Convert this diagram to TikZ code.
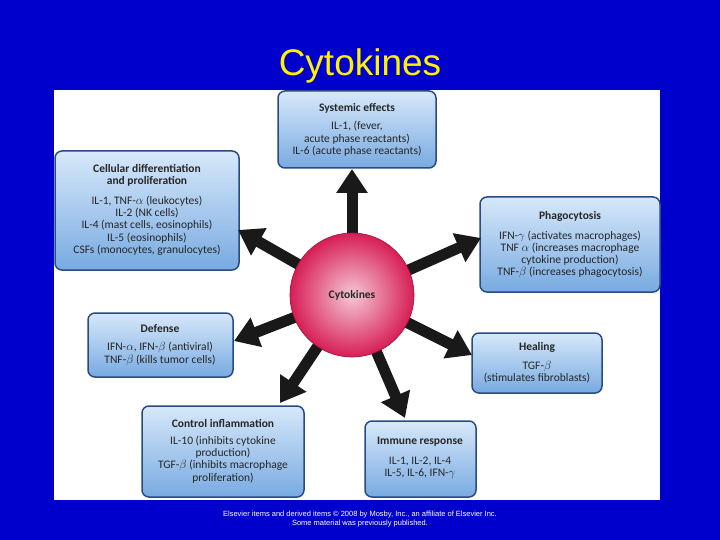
\documentclass[tikz,border=0pt]{standalone}
\usepackage{fontspec}
\setmainfont{Liberation Sans}
\newfontfamily\boxfont{Carlito}
\usetikzlibrary{arrows.meta,shadings}
\definecolor{bgblue}{RGB}{0,0,204}
\definecolor{boxtop}{RGB}{215,232,250}
\definecolor{boxbot}{RGB}{120,170,225}
\definecolor{boxline}{RGB}{40,75,130}
\definecolor{ballin}{RGB}{245,200,215}
\definecolor{ballout}{RGB}{215,30,85}
\begin{document}
\begin{tikzpicture}[x=1pt,y=-1pt,
  cbox/.style={rounded corners=7pt,draw=boxline,line width=1.5pt,top color=boxtop,bottom color=boxbot},
  btext/.style={font=\boxfont\fontsize{11.5}{12.3}\selectfont,align=center,text=black!85},
  arr/.style={line width=11pt,-{Triangle[width=30pt,length=24pt]},black!90}]
\fill[bgblue] (0,0) rectangle (720,540);
\useasboundingbox (0,0) rectangle (720,540);
\node[text=yellow,font=\fontsize{37}{40}\selectfont] (title) at (360,66) {Cytokines};
\fill[white] (54,90) rectangle (660,500);
% boxes
\path[cbox] (278,91) rectangle (436,168);
\node[btext] (sys) at (357,130) {\textbf{Systemic effects}\\[6pt]IL-1, (fever,\\acute phase reactants)\\IL-6 (acute phase reactants)};
\path[cbox] (55,151) rectangle (239,270);
\node[btext] (cell) at (147,210) {\textbf{Cellular differentiation}\\\textbf{and proliferation}\\[7pt]IL-1, TNF-$\alpha$ (leukocytes)\\IL-2 (NK cells)\\IL-4 (mast cells, eosinophils)\\IL-5 (eosinophils)\\CSFs (monocytes, granulocytes)};
\path[cbox] (480,197) rectangle (660,292);
\node[btext] (phag) at (570,245) {\textbf{Phagocytosis}\\[7pt]IFN-$\gamma$ (activates macrophages)\\TNF $\alpha$ (increases macrophage\\cytokine production)\\TNF-$\beta$ (increases phagocytosis)};
\path[cbox] (88,313) rectangle (233,377);
\node[btext] (def) at (160,345) {\textbf{Defense}\\[6pt]IFN-$\alpha$, IFN-$\beta$ (antiviral)\\TNF-$\beta$ (kills tumor cells)};
\path[cbox] (472,333) rectangle (602,393);
\node[btext] (heal) at (537,363) {\textbf{Healing}\\[6pt]TGF-$\beta$\\(stimulates fibroblasts)};
\path[cbox] (142,406) rectangle (304,497);
\node[btext] (ctrl) at (223,451) {\textbf{Control inflammation}\\[5pt]IL-10 (inhibits cytokine\\production)\\TGF-$\beta$ (inhibits macrophage\\proliferation)};
\path[cbox] (365,421) rectangle (476,497);
\node[btext] (imm) at (420,458) {\textbf{Immune response}\\[7pt]IL-1, IL-2, IL-4\\IL-5, IL-6, IFN-$\gamma$};
% arrows
\coordinate (c) at (352,295);
\coordinate (tsys) at (352,169);
\coordinate (tcell) at (238,230);
\coordinate (tphag) at (481,238);
\coordinate (tdef) at (234,341);
\coordinate (theal) at (472,355);
\coordinate (tctrl) at (280,403);
\coordinate (timm) at (405,418);
\foreach \t in {tsys,tcell,tphag,tdef,theal,tctrl,timm}
  \draw[arr] (c) -- (\t);
\shade[inner color=ballin,outer color=ballout,draw=ballout!70!black,line width=0.6pt] (c) circle (62);
\node[font=\boxfont\bfseries\fontsize{11.5}{13}\selectfont,text=black!85] (cyt) at (c) {Cytokines};
\node[text=white,font=\fontsize{7.5}{9}\selectfont,align=center] (foot) at (360,519) {Elsevier items and derived items \textcopyright{} 2008 by Mosby, Inc., an affiliate of Elsevier Inc.\\Some material was previously published.};
\end{tikzpicture}
\end{document}
